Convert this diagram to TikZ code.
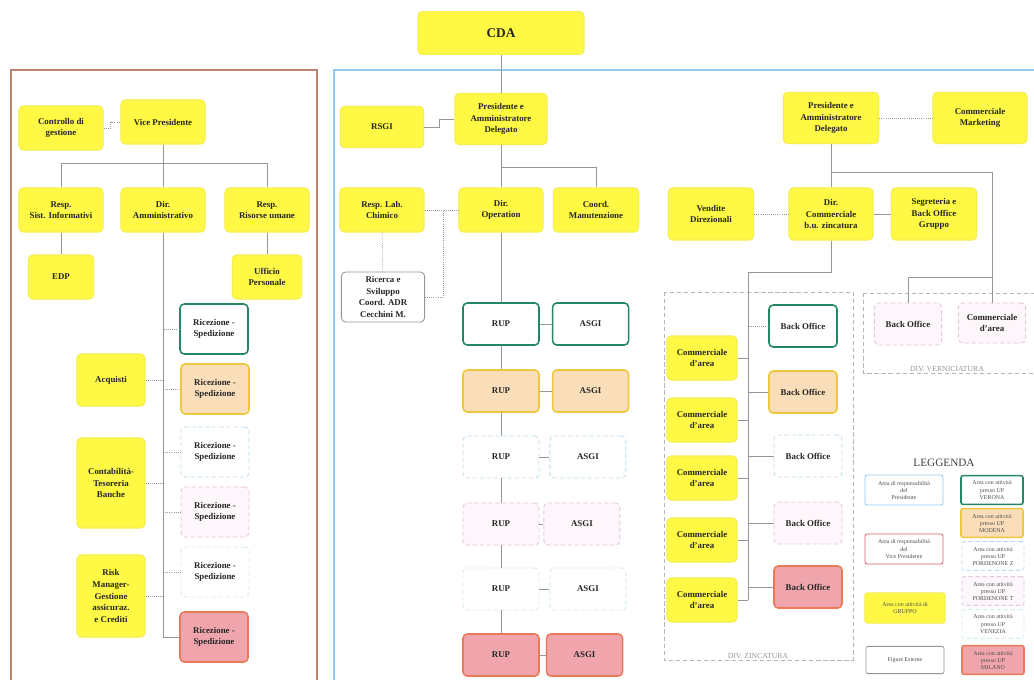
\documentclass[tikz,border=0pt]{standalone}
\usepackage{fontspec}
\setmainfont{Liberation Serif}
\usepackage{xcolor}
\usepackage{tikz}
\usetikzlibrary{positioning}
\definecolor{giallo}{RGB}{255,249,70}
\definecolor{bordogiallo}{RGB}{246,238,80}
\definecolor{verde}{RGB}{35,135,95}
\definecolor{pesca}{RGB}{250,222,185}
\definecolor{arancio}{RGB}{240,198,60}
\definecolor{azzurro}{RGB}{190,220,240}
\definecolor{rosa}{RGB}{230,195,222}
\definecolor{rosachiaro}{RGB}{253,246,250}
\definecolor{celeste}{RGB}{212,234,246}
\definecolor{salmone}{RGB}{240,165,172}
\definecolor{rossoarancio}{RGB}{232,122,88}
\definecolor{rossolegenda}{RGB}{228,92,112}
\definecolor{grigio}{RGB}{150,150,150}
\definecolor{mattone}{RGB}{192,132,112}
\definecolor{cielo}{RGB}{150,200,236}
\tikzset{
  unit/.style = {shape=rectangle, rounded corners=3pt, draw, anchor=center,
                 align=center, inner sep=1pt, text=black!85,
                 font=\fontsize{6.3}{8.2}\selectfont\bfseries},
  yellowbox/.style = {unit, fill=giallo, draw=bordogiallo, line width=0.8pt,
                      minimum width=2.1cm, minimum height=1.1cm},
  cdabox/.style = {yellowbox, minimum width=4.15cm, minimum height=1.07cm,
                   font=\fontsize{9.5}{11}\selectfont\bfseries},
  veronabox/.style = {unit, fill=white, draw=verde, line width=1.1pt},
  modenabox/.style = {unit, fill=pesca, draw=arancio, line width=1.1pt},
  pzbox/.style = {unit, fill=white, draw=azzurro, densely dashed, line width=0.6pt},
  ptbox/.style = {unit, fill=rosachiaro, draw=rosa, densely dashed, line width=0.6pt},
  veneziabox/.style = {unit, fill=white, draw=celeste, densely dashed, line width=0.6pt},
  milanobox/.style = {unit, fill=salmone, draw=rossoarancio, line width=1.1pt},
  extbox/.style = {unit, fill=white, draw=grigio, line width=0.6pt},
  ricbox/.style = {minimum width=1.7cm, minimum height=1.25cm},
  rupbox/.style = {minimum width=1.9cm, minimum height=1.05cm},
  bobox/.style = {minimum width=1.7cm, minimum height=1.05cm},
  areabox/.style = {yellowbox, minimum width=1.75cm, minimum height=1.1cm},
  legfont/.style = {font=\fontsize{4.2}{5}\selectfont, text=black!70},
  legwide/.style = {minimum width=1.95cm, minimum height=0.75cm, rounded corners=1.5pt, legfont},
  legsmall/.style = {minimum width=1.55cm, minimum height=0.72cm, rounded corners=1.5pt, legfont},
  divlabel/.style = {anchor=south, inner sep=1pt, text=grigio,
                     font=\fontsize{5.5}{6}\selectfont},
  conn/.style = {draw=grigio, line width=0.5pt},
  staffconn/.style = {draw=grigio, line width=0.5pt, densely dotted},
  divframe/.style = {draw=grigio!70, line width=0.4pt, densely dashed}
}
\begin{document}
\begin{tikzpicture}[x=0.025cm, y=-0.025cm]
            \useasboundingbox (0,0) rectangle (1034,679);
            \clip (0,0) rectangle (1034,679);
            \fill [white] (0,0) rectangle (1034,679);

            % riquadri delle aree
            \draw [draw=mattone, line width=1.8pt] (11,70) rectangle (317,700);
            \draw [draw=cielo, line width=1.8pt] (334,70) rectangle (1050,700);
            \draw [divframe] (664,292) rectangle (853,660);
            \draw [divframe] (863,293) rectangle (1045,373);
            \node (dz) [divlabel] at (758,660) {DIV. ZINCATURA};
            \node (dv) [divlabel] at (947,373) {DIV. VERNICIATURA};

            \node (cda) [cdabox] at (501,33) {CDA};

            % area Vice Presidente
            \node (ctrl) [yellowbox] at (61,128) {Controllo di\\gestione};
            \node (vp) [yellowbox] at (163,122) {Vice Presidente};
            \node (rsi) [yellowbox] at (61,210) {Resp.\\Sist. Informativi};
            \node (dam) [yellowbox] at (163,210) {Dir.\\Amministrativo};
            \node (rru) [yellowbox] at (267,210) {Resp.\\Risorse umane};
            \node (edp) [yellowbox, minimum width=1.63cm] at (61,277) {EDP};
            \node (uff) [yellowbox, minimum width=1.73cm] at (267,277) {Ufficio\\Personale};
            \node (acq) [yellowbox, minimum width=1.7cm, minimum height=1.3cm] at (111,380) {Acquisti};
            \node (cont) [yellowbox, minimum width=1.7cm, minimum height=2.25cm] at (111,483) {Contabilità-\\Tesoreria\\Banche};
            \node (risk) [yellowbox, minimum width=1.7cm, minimum height=2.05cm] at (111,596) {Risk\\Manager-\\Gestione\\assicuraz.\\e Crediti};
            \node (ric1) [veronabox, ricbox] at (214,329) {Ricezione -\\Spedizione};
            \node (ric2) [modenabox, ricbox] at (215,389) {Ricezione -\\Spedizione};
            \node (ric3) [pzbox, ricbox] at (215,452) {Ricezione -\\Spedizione};
            \node (ric4) [ptbox, ricbox] at (215,512) {Ricezione -\\Spedizione};
            \node (ric5) [veneziabox, ricbox] at (215,572) {Ricezione -\\Spedizione};
            \node (ric6) [milanobox, ricbox] at (214,637) {Ricezione -\\Spedizione};

            % area Presidente - operations
            \node (rsgi) [yellowbox, minimum width=2.08cm, minimum height=1.03cm] at (382,127) {RSGI};
            \node (pres) [yellowbox, minimum width=2.3cm, minimum height=1.28cm] at (501,119) {Presidente e\\Amministratore\\Delegato};
            \node (rlab) [yellowbox] at (382,210) {Resp. Lab.\\Chimico};
            \node (dirop) [yellowbox] at (501,210) {Dir.\\Operation};
            \node (coord) [yellowbox, minimum width=2.13cm] at (596,210) {Coord.\\Manutenzione};
            \node (ricerca) [extbox, minimum width=2.08cm, minimum height=1.25cm] at (383,297) {Ricerca e\\Sviluppo\\Coord. ADR\\Cecchini M.};
            \node (rup1) [veronabox, rupbox] at (501,324) {RUP};
            \node (rup2) [modenabox, rupbox] at (501,391) {RUP};
            \node (rup3) [pzbox, rupbox] at (501,457) {RUP};
            \node (rup4) [ptbox, rupbox] at (501,524) {RUP};
            \node (rup5) [veneziabox, rupbox] at (501,589) {RUP};
            \node (rup6) [milanobox, rupbox] at (501,655) {RUP};
            \node (asgi1) [veronabox, rupbox, right=0.3cm of rup1] {ASGI};
            \node (asgi2) [modenabox, rupbox, right=0.3cm of rup2] {ASGI};
            \node (asgi3) [pzbox, rupbox, right=0.25cm of rup3] {ASGI};
            \node (asgi4) [ptbox, rupbox, right=0.1cm of rup4] {ASGI};
            \node (asgi5) [veneziabox, rupbox, right=0.25cm of rup5] {ASGI};
            \node (asgi6) [milanobox, rupbox, right=0.15cm of rup6] {ASGI};

            % area Presidente - commerciale
            \node (presc) [yellowbox, minimum width=2.38cm, minimum height=1.28cm] at (831,118) {Presidente e\\Amministratore\\Delegato};
            \node (mkt) [yellowbox, minimum width=2.35cm, minimum height=1.28cm] at (980,118) {Commerciale\\Marketing};
            \node (vend) [yellowbox, minimum width=2.13cm, minimum height=1.3cm] at (711,214) {Vendite\\Direzionali};
            \node (divc) [yellowbox, minimum width=2.1cm, minimum height=1.3cm] at (831,214) {Dir.\\Commerciale\\b.u. zincatura};
            \node (segr) [yellowbox, minimum width=2.13cm, minimum height=1.3cm] at (934,214) {Segreteria e\\Back Office\\Gruppo};
            \node (ca1) [areabox] at (702,358) {Commerciale\\d'area};
            \node (ca2) [areabox] at (702,420) {Commerciale\\d'area};
            \node (ca3) [areabox] at (702,478) {Commerciale\\d'area};
            \node (ca4) [areabox] at (702,540) {Commerciale\\d'area};
            \node (ca5) [areabox] at (702,600) {Commerciale\\d'area};
            \node (bo1) [veronabox, bobox] at (803,326) {Back Office};
            \node (bo2) [modenabox, bobox] at (803,392) {Back Office};
            \node (bo3) [pzbox, bobox] at (808,456) {Back Office};
            \node (bo4) [ptbox, bobox] at (808,523) {Back Office};
            \node (bo5) [milanobox, bobox] at (808,587) {Back Office};
            \node (bov) [ptbox, minimum width=1.68cm, minimum height=1.05cm] at (908,324) {Back Office};
            \node (cav) [ptbox, minimum width=1.68cm, minimum height=1.0cm] at (992,323) {Commerciale\\d'area};

            % leggenda
            \node (leg) [font=\fontsize{8}{9}\selectfont, text=black!75] at (944,463) {LEGGENDA};
            \node (l1) [extbox, draw=cielo, legwide] at (904,490) {Area di responsabilità\\del\\Presidente};
            \node (l2) [veronabox, legsmall] at (992,490) {Area con attività\\presso UP\\VERONA};
            \node (l3) [modenabox, legsmall] at (992,523) {Area con attività\\presso UP\\MODENA};
            \node (l4) [extbox, draw=rossolegenda, legwide] at (904,549) {Area di responsabilità\\del\\Vice Presidente};
            \node (l5) [pzbox, legsmall] at (993,556) {Area con attività\\presso UP\\PORDENONE Z};
            \node (l6) [ptbox, legsmall] at (993,591) {Area con attività\\presso UP\\PORDENONE T};
            \node (l7) [yellowbox, legwide, minimum width=2cm] at (905,608) {Area con attività di\\GRUPPO};
            \node (l8) [veneziabox, legsmall] at (993,624) {Area con attività\\presso UP\\VENEZIA};
            \node (l9) [extbox, legwide, minimum height=0.68cm] at (905,660) {Figure Esterne};
            \node (l10) [milanobox, legsmall] at (993,660) {Area con attività\\presso UP\\MILANO};

            % collegamenti Vice Presidente
            \coordinate (busvp) at (163,163);
            \draw [staffconn] (ctrl.east) -- ++(7,0) |- (vp.west);
            \draw [conn] (vp) -- (dam);
            \draw [conn] (busvp) -| (rsi.north);
            \draw [conn] (busvp) -| (rru.north);
            \draw [conn] (rsi) -- (edp);
            \draw [conn] (rru) -- (uff);
            \draw [conn] (dam.south) |- (ric6.west);
            \draw [staffconn] (ric1.west) -- (ric1.west -| dam.south);
            \draw [staffconn] (ric2.west) -- (ric2.west -| dam.south);
            \draw [staffconn] (ric3.west) -- (ric3.west -| dam.south);
            \draw [staffconn] (ric4.west) -- (ric4.west -| dam.south);
            \draw [staffconn] (ric5.west) -- (ric5.west -| dam.south);
            \draw [staffconn] (acq.east) -- (acq.east -| dam.south);
            \draw [staffconn] (cont.east) -- (cont.east -| dam.south);
            \draw [staffconn] (risk.east) -- (risk.east -| dam.south);

            % collegamenti operations
            \coordinate (buspres) at (501,167);
            \coordinate (labjoin) at (443,210);
            \draw [conn] (cda) -- (pres);
            \draw [conn] (rsgi.east) -- ++(15,0) |- (pres.west);
            \draw [conn] (pres) -- (dirop);
            \draw [conn] (buspres) -| (coord.north);
            \draw [staffconn] (rlab) -- (dirop);
            \draw [staffconn] (rlab) -- (ricerca);
            \draw [staffconn] (ricerca.east) -| (labjoin);
            \draw [conn] (dirop) -- (rup1);
            \draw [conn] (rup1) -- (rup2);
            \draw [conn] (rup2) -- (rup3);
            \draw [conn] (rup3) -- (rup4);
            \draw [conn] (rup4) -- (rup5);
            \draw [conn] (rup5) -- (rup6);
            \draw [conn] (rup1) -- (asgi1);
            \draw [conn] (rup2) -- (asgi2);
            \draw [conn] (rup3) -- (asgi3);
            \draw [conn] (rup4) -- (asgi4);
            \draw [conn] (rup5) -- (asgi5);
            \draw [conn] (rup6) -- (asgi6);

            % collegamenti commerciale
            \coordinate (buspc) at (831,172);
            \coordinate (busvern) at (992,277);
            \coordinate (zntop) at (748,272);
            \coordinate (znbot) at (748,600);
            \draw [staffconn] (presc) -- (mkt);
            \draw [conn] (presc) -- (divc);
            \draw [conn] (buspc) -| (cav.north);
            \draw [conn] (busvern) -| (bov.north);
            \draw [staffconn] (vend) -- (divc);
            \draw [conn] (divc) -- (segr);
            \draw [conn] (divc.south) |- (zntop) -- (znbot);
            \draw [conn] (ca1.east) -- (ca1.east -| zntop);
            \draw [conn] (ca2.east) -- (ca2.east -| zntop);
            \draw [conn] (ca3.east) -- (ca3.east -| zntop);
            \draw [conn] (ca4.east) -- (ca4.east -| zntop);
            \draw [conn] (ca5.east) -- (znbot);
            \draw [staffconn] (bo1.west) -- (bo1.west -| zntop);
            \draw [conn] (bo2.west) -- (bo2.west -| zntop);
            \draw [conn] (bo3.west) -- (bo3.west -| zntop);
            \draw [conn] (bo4.west) -- (bo4.west -| zntop);
            \draw [conn] (bo5.west) -- (bo5.west -| zntop);
        \end{tikzpicture}
\end{document}
